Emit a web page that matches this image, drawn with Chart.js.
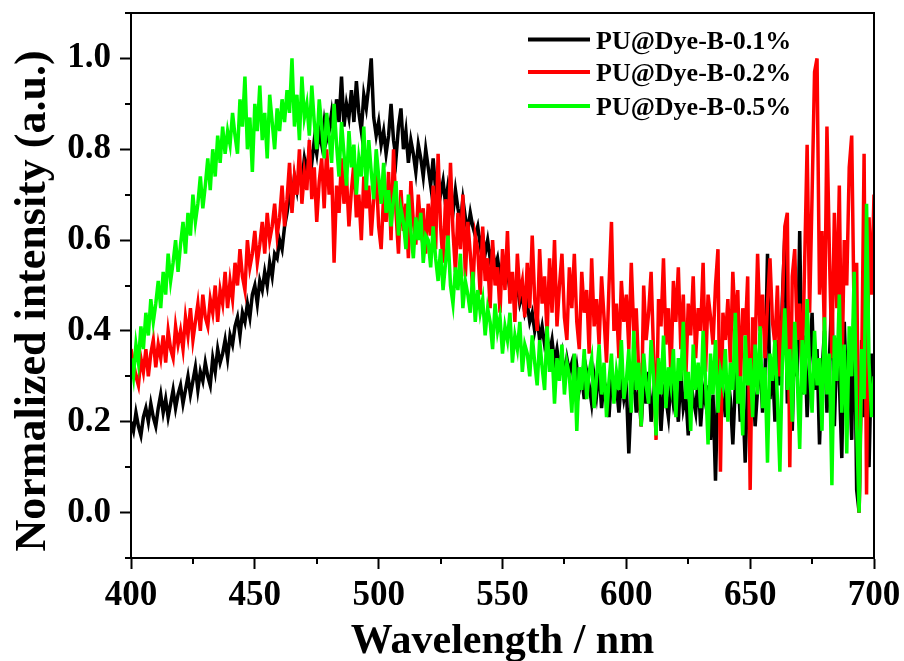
<!DOCTYPE html>
<html>
<head>
<meta charset="utf-8">
<script src="https://cdn.jsdelivr.net/npm/chart.js@4.4.0/dist/chart.umd.min.js"></script>
<style>
  html, body { margin: 0; padding: 0; background: #fff; }
  canvas { display: block; }
</style>
</head>
<body>
<canvas id="spectrumChart" width="904" height="661"></canvas>
<script>
// grille de longueurs d'onde (nm) : premier point et pas d'echantillonnage
const wlStart = 400;
const wlStep = 1;

const seriesNames = ['PU@Dye-B-0.1%', 'PU@Dye-B-0.2%', 'PU@Dye-B-0.5%'];
const seriesColors = ['#000000', '#ff0000', '#00ff00'];

// intensites normalisees, un point par nm de 400 a 700 nm (20 valeurs par ligne)
const dye01 = [
  0.20, 0.18, 0.22, 0.19, 0.17, 0.21, 0.23, 0.20, 0.24, 0.21, 0.19, 0.23, 0.26, 0.22, 0.25, 0.21, 0.24, 0.27, 0.23, 0.26,
  0.28, 0.24, 0.27, 0.30, 0.26, 0.29, 0.32, 0.27, 0.31, 0.29, 0.33, 0.30, 0.28, 0.34, 0.31, 0.36, 0.33, 0.35, 0.38, 0.34,
  0.39, 0.37, 0.41, 0.43, 0.39, 0.44, 0.42, 0.46, 0.43, 0.48, 0.50, 0.46, 0.51, 0.49, 0.53, 0.50, 0.55, 0.52, 0.57, 0.56,
  0.60, 0.58, 0.63, 0.66, 0.70, 0.68, 0.74, 0.71, 0.76, 0.73, 0.78, 0.75, 0.80, 0.77, 0.82, 0.79, 0.84, 0.81, 0.86, 0.82,
  0.84, 0.88, 0.83, 0.91, 0.86, 0.96, 0.85, 0.90, 0.87, 0.93, 0.86, 0.95, 0.88, 0.84, 0.92, 0.89, 0.94, 1.00, 0.87, 0.83,
  0.86, 0.81, 0.84, 0.79, 0.83, 0.90, 0.82, 0.78, 0.85, 0.89, 0.80, 0.84, 0.77, 0.82, 0.79, 0.75, 0.81, 0.78, 0.74, 0.80,
  0.76, 0.72, 0.78, 0.71, 0.74, 0.70, 0.73, 0.68, 0.72, 0.69, 0.66, 0.71, 0.67, 0.64, 0.69, 0.65, 0.62, 0.66, 0.63, 0.61,
  0.63, 0.59, 0.61, 0.57, 0.60, 0.56, 0.58, 0.54, 0.56, 0.52, 0.55, 0.51, 0.53, 0.49, 0.51, 0.47, 0.50, 0.46, 0.48, 0.44,
  0.46, 0.42, 0.44, 0.40, 0.43, 0.38, 0.41, 0.37, 0.39, 0.35, 0.38, 0.33, 0.36, 0.32, 0.35, 0.30, 0.34, 0.31, 0.33, 0.28,
  0.32, 0.27, 0.30, 0.25, 0.31, 0.28, 0.24, 0.30, 0.26, 0.32, 0.23, 0.29, 0.27, 0.21, 0.30, 0.26, 0.28, 0.22, 0.29, 0.25,
  0.28, 0.13, 0.26, 0.30, 0.22, 0.27, 0.19, 0.29, 0.24, 0.31, 0.20, 0.26, 0.23, 0.30, 0.18, 0.27, 0.25, 0.21, 0.29, 0.24,
  0.27, 0.20, 0.31, 0.23, 0.26, 0.17, 0.29, 0.25, 0.22, 0.30, 0.19, 0.27, 0.24, 0.28, 0.16, 0.26, 0.07, 0.29, 0.23, 0.27,
  0.21, 0.30, 0.25, 0.15, 0.28, 0.33, 0.20, 0.26, 0.11, 0.29, 0.24, 0.31, 0.19, 0.27, 0.35, 0.22, 0.30, 0.57, 0.25, 0.33,
  0.20, 0.38, 0.28, 0.47, 0.61, 0.24, 0.35, 0.18, 0.41, 0.30, 0.62, 0.26, 0.39, 0.21, 0.33, 0.44, 0.27, 0.36, 0.15, 0.31,
  0.40, 0.22, 0.34, 0.48, 0.19, 0.37, 0.29, 0.12, 0.42, 0.25, 0.33, 0.16, 0.49, 0.05, 0.00, 0.38, 0.21, 0.30, 0.10, 0.35,
  0.28
];

const dye02 = [
  0.36, 0.33, 0.30, 0.28, 0.34, 0.31, 0.36, 0.30, 0.35, 0.38, 0.32, 0.37, 0.34, 0.39, 0.33, 0.40, 0.36, 0.34, 0.41, 0.37,
  0.40, 0.36, 0.43, 0.39, 0.45, 0.38, 0.42, 0.46, 0.40, 0.48, 0.43, 0.41, 0.47, 0.44, 0.50, 0.42, 0.49, 0.46, 0.53, 0.45,
  0.51, 0.47, 0.55, 0.50, 0.58, 0.52, 0.49, 0.60, 0.54, 0.57, 0.62, 0.55, 0.59, 0.64, 0.57, 0.66, 0.60, 0.63, 0.68, 0.61,
  0.65, 0.72, 0.63, 0.69, 0.77, 0.66, 0.74, 0.70, 0.80, 0.68, 0.75, 0.71, 0.82, 0.69, 0.76, 0.64, 0.73, 0.78, 0.67, 0.80,
  0.70, 0.76, 0.55, 0.72, 0.66, 0.78, 0.68, 0.74, 0.63, 0.71, 0.77, 0.65, 0.70, 0.60, 0.74, 0.67, 0.72, 0.61, 0.69, 0.75,
  0.63, 0.58, 0.70, 0.64, 0.75, 0.60, 0.80, 0.66, 0.57, 0.71, 0.62, 0.68, 0.56, 0.73, 0.64, 0.59, 0.70, 0.63, 0.67, 0.57,
  0.68, 0.61, 0.72, 0.58, 0.79, 0.63, 0.55, 0.69, 0.60, 0.77, 0.62, 0.53, 0.66, 0.58, 0.70, 0.52, 0.64, 0.57, 0.49, 0.61,
  0.58, 0.48, 0.63, 0.51, 0.56, 0.45, 0.60, 0.50, 0.54, 0.44, 0.58, 0.49, 0.62, 0.46, 0.53, 0.42, 0.57, 0.48, 0.51, 0.43,
  0.55, 0.45, 0.61, 0.47, 0.40, 0.58, 0.46, 0.52, 0.39, 0.56, 0.44, 0.60, 0.41, 0.50, 0.57, 0.43, 0.38, 0.54, 0.45, 0.57,
  0.42, 0.36, 0.53, 0.44, 0.49, 0.35, 0.56, 0.41, 0.47, 0.37, 0.52, 0.43, 0.33, 0.50, 0.64, 0.40, 0.46, 0.34, 0.51, 0.42,
  0.48, 0.36, 0.55, 0.40, 0.45, 0.31, 0.19, 0.50, 0.38, 0.44, 0.53, 0.35, 0.16, 0.47, 0.41, 0.56, 0.37, 0.45, 0.30, 0.51,
  0.42, 0.54, 0.36, 0.48, 0.29, 0.46, 0.39, 0.52, 0.34, 0.45, 0.40, 0.55, 0.31, 0.48, 0.43, 0.37, 0.50, 0.58, 0.09, 0.44,
  0.38, 0.47, 0.33, 0.53, 0.41, 0.49, 0.27, 0.45, 0.39, 0.52, 0.05, 0.43, 0.36, 0.57, 0.40, 0.48, 0.34, 0.46, 0.56, 0.42,
  0.37, 0.50, 0.30, 0.45, 0.63, 0.66, 0.10, 0.52, 0.58, 0.38, 0.46, 0.30, 0.55, 0.81, 0.44, 0.70, 0.97, 1.00, 0.48, 0.62,
  0.39, 0.85, 0.57, 0.34, 0.66, 0.45, 0.72, 0.28, 0.60, 0.50, 0.76, 0.83, 0.42, 0.55, 0.00, 0.30, 0.79, 0.04, 0.65, 0.48,
  0.70
];

const dye05 = [
  0.34, 0.30, 0.37, 0.33, 0.41, 0.36, 0.44, 0.39, 0.47, 0.42, 0.46, 0.51, 0.45, 0.53, 0.48, 0.57, 0.51, 0.55, 0.60, 0.53,
  0.59, 0.64, 0.57, 0.66, 0.61, 0.70, 0.64, 0.68, 0.74, 0.67, 0.72, 0.78, 0.71, 0.80, 0.74, 0.83, 0.77, 0.85, 0.79, 0.84,
  0.81, 0.88, 0.83, 0.79, 0.91, 0.85, 0.96, 0.80, 0.87, 0.75, 0.90, 0.84, 0.94, 0.82, 0.88, 0.78, 0.92, 0.86, 0.80, 0.89,
  0.84, 0.91, 0.86, 0.93, 0.88, 1.00, 0.85, 0.92, 0.82, 0.96, 0.87, 0.90, 0.83, 0.94, 0.86, 0.80, 0.91, 0.85, 0.78, 0.88,
  0.83, 0.77, 0.90, 0.81, 0.74, 0.86, 0.79, 0.72, 0.84, 0.76, 0.81, 0.70, 0.78, 0.74, 0.85, 0.71, 0.82, 0.75, 0.69, 0.80,
  0.74, 0.68, 0.77, 0.66, 0.71, 0.63, 0.69, 0.73, 0.61, 0.67, 0.64, 0.58, 0.70, 0.62, 0.56, 0.65, 0.60, 0.66, 0.55, 0.61,
  0.60, 0.54, 0.63, 0.56, 0.51, 0.58, 0.49, 0.55, 0.61, 0.50, 0.46, 0.54, 0.49, 0.57, 0.45, 0.51, 0.48, 0.44, 0.53, 0.42,
  0.49, 0.44, 0.47, 0.39, 0.45, 0.42, 0.36, 0.46, 0.40, 0.43, 0.35, 0.41, 0.38, 0.44, 0.33, 0.39, 0.36, 0.42, 0.31, 0.37,
  0.35, 0.30, 0.39, 0.33, 0.28, 0.38, 0.32, 0.27, 0.41, 0.31, 0.36, 0.24, 0.34, 0.29, 0.37, 0.26, 0.33, 0.30, 0.22, 0.35,
  0.18, 0.32, 0.27, 0.36, 0.25, 0.31, 0.34, 0.23, 0.30, 0.37, 0.26, 0.33, 0.21, 0.29, 0.35, 0.24, 0.31, 0.27, 0.38, 0.25,
  0.29, 0.36, 0.22, 0.40, 0.27, 0.33, 0.19, 0.35, 0.28, 0.24, 0.38, 0.30, 0.17, 0.34, 0.26, 0.39, 0.23, 0.32, 0.28, 0.36,
  0.21, 0.34, 0.29, 0.42, 0.25, 0.31, 0.18, 0.37, 0.27, 0.33, 0.23, 0.40, 0.29, 0.15, 0.35, 0.26, 0.38, 0.22, 0.31, 0.28,
  0.36, 0.20, 0.33, 0.27, 0.44, 0.24, 0.30, 0.17, 0.39, 0.28, 0.34, 0.21, 0.37, 0.26, 0.41, 0.23, 0.32, 0.11, 0.35, 0.29,
  0.38, 0.25, 0.09, 0.33, 0.45, 0.27, 0.36, 0.20, 0.42, 0.30, 0.14, 0.38, 0.26, 0.47, 0.31, 0.22, 0.40, 0.28, 0.34, 0.18,
  0.43, 0.26, 0.35, 0.06, 0.39, 0.29, 0.48, 0.22, 0.37, 0.13, 0.41, 0.30, 0.53, 0.19, 0.00, 0.36, 0.25, 0.68, 0.33, 0.21,
  0.30
];

// graduations
const xTicks = [400, 450, 500, 550, 600, 650, 700];
const xMinorTicks = [425, 475, 525, 575, 625, 675];
const yTicks = [0.0, 0.2, 0.4, 0.6, 0.8, 1.0];
const yMinorTicks = [-0.1, 0.1, 0.3, 0.5, 0.7, 0.9, 1.1];

const xTitle = 'Wavelength / nm';
const yTitle = 'Normalized intensity (a.u.)';

const serif = '"Liberation Serif", "Times New Roman", serif';
Chart.defaults.font.family = serif;
Chart.defaults.color = '#000';

function toPoints(values) {
    return values.map((v, i) => ({ x: wlStart + i * wlStep, y: v }));
}

// Cadre, petites graduations, titres d'axes et legende
const decorPlugin = {
    id: 'decor',
    afterDatasetsDraw(chart) {
        const { ctx, chartArea: a, scales } = chart;
        ctx.save();
        ctx.strokeStyle = '#000';
        ctx.lineWidth = 2;
        ctx.strokeRect(a.left, a.top, a.right - a.left, a.bottom - a.top);

        // petites graduations
        ctx.beginPath();
        xMinorTicks.forEach(v => {
            const px = Math.round(scales.x.getPixelForValue(v));
            ctx.moveTo(px, a.bottom);
            ctx.lineTo(px, a.bottom + 6);
        });
        yMinorTicks.forEach(v => {
            const py = Math.round(scales.y.getPixelForValue(v));
            ctx.moveTo(a.left, py);
            ctx.lineTo(a.left - 6, py);
        });
        ctx.stroke();

        // legende
        const legendY = [39.5, 72, 106];
        ctx.font = 'bold 26px ' + serif;
        ctx.textAlign = 'left';
        ctx.textBaseline = 'alphabetic';
        seriesNames.forEach((name, i) => {
            ctx.strokeStyle = seriesColors[i];
            ctx.lineWidth = 4;
            ctx.beginPath();
            ctx.moveTo(528, legendY[i]);
            ctx.lineTo(590, legendY[i]);
            ctx.stroke();
            ctx.fillStyle = '#000';
            ctx.fillText(name, 596, legendY[i] + 9);
        });
        ctx.restore();
    },
    afterDraw(chart) {
        const { ctx, chartArea: a } = chart;
        ctx.save();
        ctx.fillStyle = '#000';
        ctx.textAlign = 'center';
        ctx.textBaseline = 'alphabetic';
        ctx.font = 'bold 42px ' + serif;
        ctx.fillText(xTitle, (a.left + a.right) / 2, 653);

        ctx.translate(45, 301);
        ctx.rotate(-Math.PI / 2);
        ctx.font = 'bold 44px ' + serif;
        ctx.fillText(yTitle, 0, 0);
        ctx.restore();
    }
};

const ctx = document.getElementById('spectrumChart').getContext('2d');

const datasets = [dye01, dye02, dye05].map((values, i) => ({
    label: seriesNames[i],
    data: toPoints(values),
    borderColor: seriesColors[i],
    backgroundColor: seriesColors[i],
    borderWidth: 3.5,
    pointRadius: 0,
    tension: 0,
    order: 3 - i   // la courbe verte passe au-dessus
}));

const spectrumChart = new Chart(ctx, {
    type: 'line',
    data: { datasets: datasets },
    options: {
        responsive: false,
        animation: false,
        devicePixelRatio: 1,
        layout: {
            padding: { top: 13, right: 30, bottom: 0, left: 0 }
        },
        plugins: {
            legend: { display: false },
            tooltip: { enabled: false }
        },
        scales: {
            x: {
                type: 'linear',
                min: 400,
                max: 700,
                afterBuildTicks: scale => { scale.ticks = xTicks.map(v => ({ value: v })); },
                afterFit: scale => {
                    scale.height = 103;
                    scale.paddingLeft = 0;
                    scale.paddingRight = 0;
                },
                ticks: {
                    font: { size: 35, weight: 'bold' },
                    color: '#000',
                    padding: 6,
                    maxRotation: 0,
                    autoSkip: false
                },
                grid: {
                    drawOnChartArea: false,
                    drawTicks: true,
                    tickLength: 11,
                    tickWidth: 2,
                    tickColor: '#000'
                },
                border: { display: true, color: '#000', width: 2 }
            },
            y: {
                type: 'linear',
                min: -0.1,
                max: 1.1,
                afterBuildTicks: scale => { scale.ticks = yTicks.map(v => ({ value: v })); },
                afterFit: scale => {
                    scale.width = 131;
                    scale.paddingTop = 0;
                    scale.paddingBottom = 0;
                },
                ticks: {
                    font: { size: 35, weight: 'bold' },
                    color: '#000',
                    padding: 9,
                    callback: value => value.toFixed(1)
                },
                grid: {
                    drawOnChartArea: false,
                    drawTicks: true,
                    tickLength: 11,
                    tickWidth: 2,
                    tickColor: '#000'
                },
                border: { display: true, color: '#000', width: 2 }
            }
        }
    },
    plugins: [decorPlugin]
});
</script>
</body>
</html>
